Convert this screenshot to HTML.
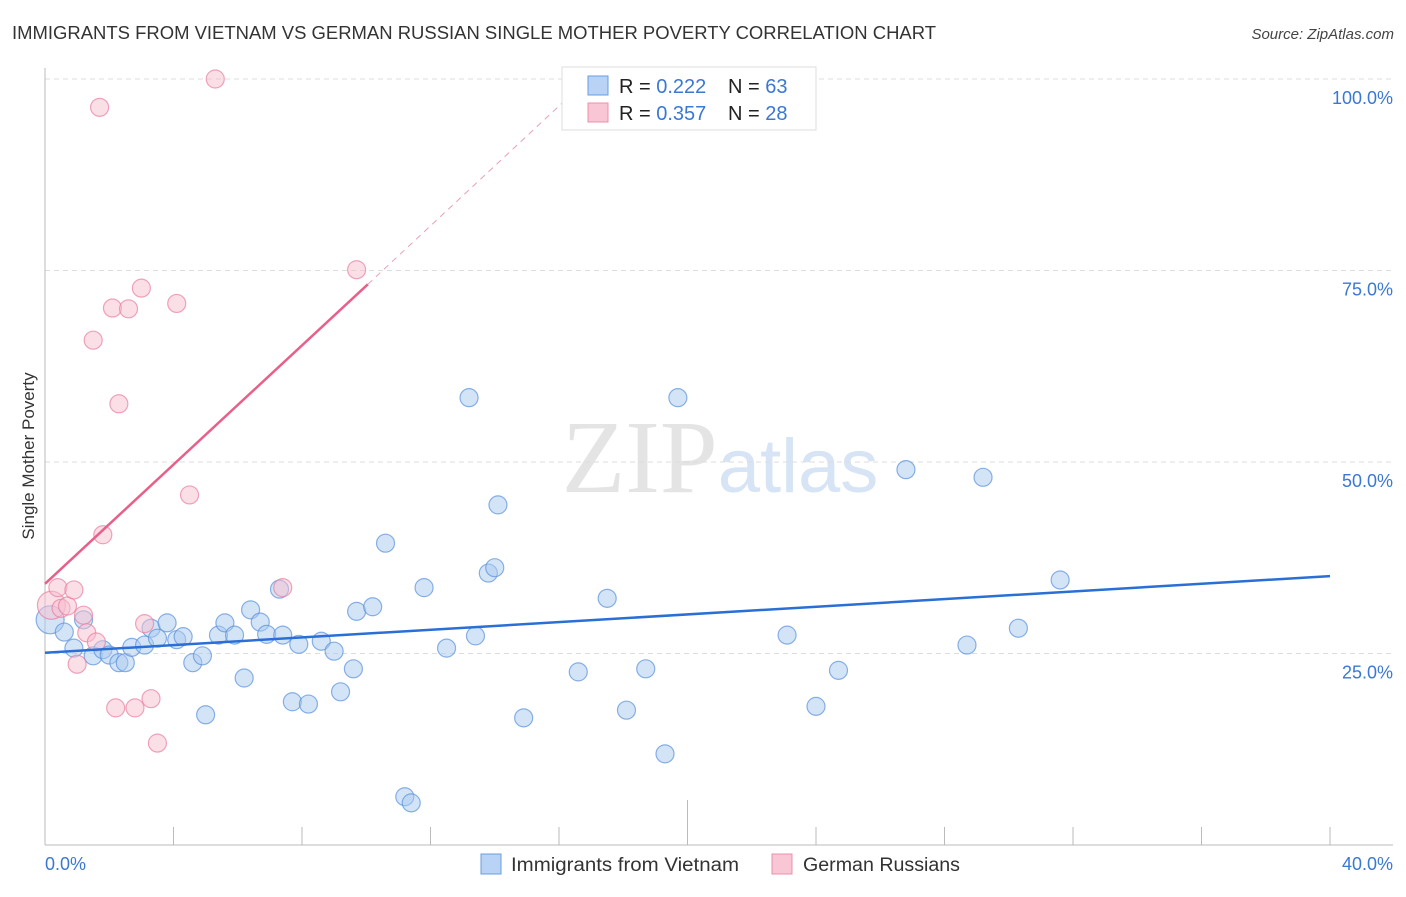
<!DOCTYPE html>
<html><head><meta charset="utf-8"><style>
html,body{margin:0;padding:0;background:#fff;}
body{width:1406px;height:892px;overflow:hidden;font-family:"Liberation Sans",sans-serif;}
</style></head><body>
<svg id="chart" width="1406" height="892" xmlns="http://www.w3.org/2000/svg" font-family="Liberation Sans, sans-serif">
<text x="12" y="39" font-size="18" fill="#333" textLength="924" lengthAdjust="spacingAndGlyphs">IMMIGRANTS FROM VIETNAM VS GERMAN RUSSIAN SINGLE MOTHER POVERTY CORRELATION CHART</text>
<text x="1394" y="39" font-size="15" fill="#444" text-anchor="end" font-style="italic">Source: ZipAtlas.com</text>
<text x="720" y="492" font-size="104" text-anchor="middle" fill="#e4e4e4" font-family="Liberation Serif, serif">ZIP<tspan fill="#d6e4f5" font-family="Liberation Sans, sans-serif" font-size="76">atlas</tspan></text>
<g id="grid"></g>
<g id="axes"></g>
<g id="pts"></g>
<g id="trend"></g>
<text transform="translate(34,456) rotate(-90)" font-size="17" fill="#333" text-anchor="middle">Single Mother Poverty</text>
<g>
<rect x="562" y="67" width="254" height="63" fill="#fff" stroke="#ddd"/>
<rect x="588" y="76" width="20" height="19" fill="#b8d3f5" stroke="#6a9ee0"/>
<rect x="588" y="103" width="20" height="19" fill="#f9c6d5" stroke="#ec8fab"/>
<text x="619" y="93" font-size="20" fill="#222">R = <tspan fill="#3a78d4">0.222</tspan><tspan x="728">N = </tspan><tspan fill="#3a78d4">63</tspan></text>
<text x="619" y="120" font-size="20" fill="#222">R = <tspan fill="#3a78d4">0.357</tspan><tspan x="728">N = </tspan><tspan fill="#3a78d4">28</tspan></text>
</g>
<g>
<rect x="481" y="854" width="20" height="20" fill="#b8d3f5" stroke="#6a9ee0"/>
<text x="511" y="871" font-size="19" fill="#333" textLength="228" lengthAdjust="spacingAndGlyphs">Immigrants from Vietnam</text>
<rect x="772" y="854" width="20" height="20" fill="#f9c6d5" stroke="#ec8fab"/>
<text x="803" y="871" font-size="19" fill="#333" textLength="157" lengthAdjust="spacingAndGlyphs">German Russians</text>
</g>
</svg>
<script>
const xTicks=[0,4,8,12,16,20,24,28,32,36,40];
const yTicks=[25,50,75,100];
const yTickLabels=["25.0%","50.0%","75.0%","100.0%"];
const xEndLabels=["0.0%","40.0%"];
const blueX=[0.16,0.6,0.9,1.2,1.5,1.8,2.0,2.3,2.5,2.7,3.1,3.3,3.5,3.8,4.1,4.3,4.6,4.9,5.0,5.4,5.6,5.9,6.2,6.4,6.7,6.9,7.3,7.4,7.7,7.9,8.2,8.6,9.0,9.2,9.6,9.7,10.2,10.6,11.2,11.4,11.8,12.5,13.2,13.4,13.8,14.0,14.1,14.9,16.6,17.5,18.1,18.7,19.3,19.7,23.1,24.0,24.7,26.8,28.7,29.2,30.3,31.6];
const blueY=[29.4,27.8,25.7,29.4,24.7,25.5,24.8,23.8,23.8,25.8,26.1,28.3,27.0,29.0,26.8,27.2,23.8,24.7,17.0,27.4,29.0,27.4,21.8,30.7,29.1,27.5,33.4,27.4,18.7,26.2,18.4,26.6,25.3,20.0,23.0,30.5,31.1,39.4,6.3,5.5,33.6,25.7,58.4,27.3,35.5,36.2,44.4,16.6,22.6,32.2,17.6,23.0,11.9,58.4,27.4,18.1,22.8,49.0,26.1,48.0,28.3,34.6];
const pinkX=[0.2,0.4,0.5,0.7,0.9,1.2,1.3,1.0,1.6,1.8,1.5,1.7,2.1,2.2,2.3,2.6,2.8,3.0,3.1,3.3,3.5,4.1,4.5,5.3,7.4,9.7];
const pinkY=[31.3,33.6,30.9,31.2,33.3,30.0,27.7,23.6,26.5,40.5,65.9,96.3,70.1,17.9,57.6,70.0,17.9,72.7,28.9,19.1,13.3,70.7,45.7,100,33.6,75.1];
const blueTrend=[[0,25.1],[40,35.1]];
const pinkTrend=[[0,34.1],[10.05,73.2]];
const pinkDash=[[10.05,73.2],[16.9,100]];
const NS="http://www.w3.org/2000/svg";
const X=v=>45+v/40*1285, Y=v=>845-v*7.66;
function mk(t,a,p){const e=document.createElementNS(NS,t);for(const k in a)e.setAttribute(k,a[k]);p.appendChild(e);return e;}
const grid=document.getElementById('grid'),axes=document.getElementById('axes'),pts=document.getElementById('pts'),tr=document.getElementById('trend');
yTicks.forEach((v,i)=>{
 const l=mk('line',{x1:45,x2:1393,y1:Y(v),y2:Y(v),stroke:'#ddd','stroke-dasharray':'5,4'},grid);
 
 
 const t=mk('text',{x:1393,y:Y(v)+25,'font-size':18,fill:'#3a78d4','text-anchor':'end'},axes);
 t.textContent=yTickLabels[i];
 
 
});
const la=mk('line',{x1:45,x2:45,y1:68,y2:845,stroke:'#bbb'},axes);


const ba=mk('line',{x1:45,x2:1393,y1:845,y2:845,stroke:'#bbb'},axes);


xTicks.forEach(v=>{
 const t=mk('line',{x1:X(v),x2:X(v),y1:v==20?800:827,y2:845,stroke:'#bbb'},axes);
 
 
});
[[0,'start',45],[40,'end',1393]].forEach((d,i)=>{
 const t=mk('text',{x:d[2],y:870,'font-size':18,fill:'#3a78d4','text-anchor':d[1]},axes);
 t.textContent=xEndLabels[i];
 
 
});
function dots(xs,ys,fill,stroke,name){xs.forEach((x,i)=>{
 const r=(i==0)?14:9;
 const c=mk('circle',{cx:X(x),cy:Y(ys[i]),r:r,fill:fill,'fill-opacity':0.5,stroke:stroke,'stroke-opacity':0.7,'stroke-width':1.2},pts);
 
 
});}
dots(blueX,blueY,'#a9c9f0','#5a92dc','point-vietnam');
dots(pinkX,pinkY,'#f7bfd0','#e87fa0','point-german-russians');
const bl=mk('line',{x1:X(blueTrend[0][0]),y1:Y(blueTrend[0][1]),x2:X(blueTrend[1][0]),y2:Y(blueTrend[1][1]),stroke:'#2a6fd6','stroke-width':2.5},tr);


const pl=mk('line',{x1:X(pinkTrend[0][0]),y1:Y(pinkTrend[0][1]),x2:X(pinkTrend[1][0]),y2:Y(pinkTrend[1][1]),stroke:'#e8608a','stroke-width':2.5},tr);


const pd=mk('line',{x1:X(pinkDash[0][0]),y1:Y(pinkDash[0][1]),x2:X(pinkDash[1][0]),y2:Y(pinkDash[1][1]),stroke:'#e8a0b5','stroke-width':1,'stroke-dasharray':'6,5'},tr);


</script>
</body></html>
